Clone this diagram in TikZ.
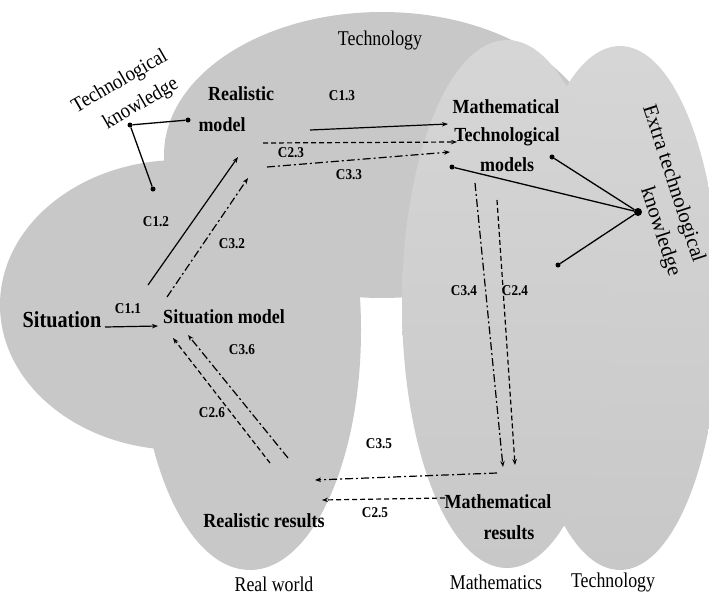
\documentclass[tikz,border=0pt]{standalone}
\usepackage{fontspec}
\setmainfont{Liberation Serif}
\usetikzlibrary{arrows.meta}
\newcommand{\sqz}[2][0.88]{\scalebox{#1}[1]{#2}}
\definecolor{regiongray}{HTML}{C8C8C8}
\definecolor{regionlight}{HTML}{D6D6D6}

\begin{document}
\begin{tikzpicture}[x=1pt,y=-1pt,
  lab/.style={font=\fontsize{20}{22}\selectfont\bfseries, inner sep=0pt},
  biglab/.style={font=\fontsize{23}{25}\selectfont\bfseries, inner sep=0pt},
  clab/.style={font=\fontsize{15}{16}\selectfont\bfseries, inner sep=0pt},
  reg/.style={font=\fontsize{21}{23}\selectfont, inner sep=0pt},
  conn/.style={line width=1.2pt, -{Stealth[length=6pt,width=4.5pt]}},
  dsh/.style={conn, dash pattern=on 5pt off 3pt},
  dshdot/.style={conn, dash pattern=on 8pt off 3pt on 2pt off 3pt},
  link/.style={line width=1.3pt},
  dot/.style={circle, fill=black, inner sep=0pt, minimum size=5pt},
  bigdot/.style={circle, fill=black, inner sep=0pt, minimum size=8pt},
]
\useasboundingbox (0,0) rectangle (709,597);
\fill[white] (0,0) rectangle (709,597);

% --- regions ---
\fill[regiongray] (250,330) ellipse [x radius=111, y radius=240];   % real world
\fill[regiongray] (180,305) ellipse [x radius=180, y radius=145];   % situation
\fill[regiongray] (382,155) ellipse [x radius=218, y radius=143];   % technology (top)
\shade[top color=regionlight, bottom color=regiongray] (620,308) ellipse [x radius=100, y radius=262]; % technology (right)
\shade[top color=regionlight, bottom color=regiongray] (507,304) ellipse [x radius=105, y radius=264]; % mathematics

% --- region titles ---
\node[reg] (ttech) at (380,40) {\sqz[0.85]{Technology}};
\node[reg] (treal) at (274,584) {\sqz[0.85]{Real world}};
\node[reg] (tmath) at (496,582) {\sqz[0.85]{Mathematics}};
\node[reg] (ttech2) at (613,582) {\sqz[0.85]{Technology}};

% --- stage labels ---
\node[biglab] (sit) at (62,320) {\sqz{Situation}};
\node[lab] (sitm) at (224,317) {\sqz[0.9]{Situation model}};
\node[lab] (real1) at (241,94) {\sqz[0.9]{Realistic}};
\node[lab] (real2) at (222,125) {\sqz[0.9]{model}};
\node[lab] (mtm1) at (506,107) {\sqz[0.9]{Mathematical}};
\node[lab] (mtm2) at (507,137) {\sqz[0.9]{Technological}};
\node[lab] (mtm3) at (507,165) {\sqz[0.9]{models}};
\node[lab] (mres1) at (498,502) {\sqz[0.9]{Mathematical}};
\node[lab] (mres2) at (509,533) {\sqz[0.9]{results}};
\node[lab] (rres) at (264,521) {\sqz[0.9]{Realistic results}};

% --- knowledge annotations ---
\node[reg, rotate=30] (tk1) at (120,82) {\sqz[0.9]{Technological}};
\node[reg, rotate=30] (tk2) at (141,104) {\sqz[0.9]{knowledge}};
\node[reg, rotate=-72] (ek1) at (673,184) {Extra technological};
\node[reg, rotate=-72] (ek2) at (660,232) {knowledge};

\node[dot] (tka) at (130,125) {};
\node[dot] (tkb) at (188,120) {};
\node[dot] (tkc) at (153,189) {};
\draw[link] (tkb) -- (tka) -- (tkc);

\node[bigdot] (eka) at (638,212) {};
\node[dot] (ekb) at (552,157) {};
\node[dot] (ekc) at (452,167) {};
\node[dot] (ekd) at (558,265) {};
\draw[link] (ekb) -- (eka) -- (ekc);
\draw[link] (eka) -- (ekd);

% --- connector end points ---
\coordinate (c11s) at (105,327); \coordinate (c11e) at (158,326);
\coordinate (c12s) at (148,285); \coordinate (c12e) at (238,157);
\coordinate (c32s) at (167,297); \coordinate (c32e) at (248,178);
\coordinate (c13s) at (310,130); \coordinate (c13e) at (448,124);
\coordinate (c23s) at (263,143); \coordinate (c23e) at (457,142);
\coordinate (c33s) at (267,167); \coordinate (c33e) at (450,152);
\coordinate (c34s) at (475,183); \coordinate (c34e) at (503,467);
\coordinate (c24s) at (497,200); \coordinate (c24e) at (515,465);
\coordinate (c35s) at (497,473); \coordinate (c35e) at (315,480);
\coordinate (c25s) at (445,498); \coordinate (c25e) at (322,500);
\coordinate (c36s) at (288,458); \coordinate (c36e) at (188,335);
\coordinate (c26s) at (270,463); \coordinate (c26e) at (173,338);

% --- connectors ---
\draw[conn] (c11s) -- (c11e);
\draw[conn] (c12s) -- (c12e);
\draw[dshdot] (c32s) -- (c32e);
\draw[conn] (c13s) -- (c13e);
\draw[dsh] (c23s) -- (c23e);
\draw[dshdot] (c33s) -- (c33e);
\draw[dshdot] (c34s) -- (c34e);
\draw[dsh] (c24s) -- (c24e);
\draw[dshdot] (c35s) -- (c35e);
\draw[dsh] (c25s) -- (c25e);
\draw[dshdot] (c36s) -- (c36e);
\draw[dsh] (c26s) -- (c26e);

% --- connector labels ---
\node[clab] (l11) at (128,309) {\sqz{C1.1}};
\node[clab] (l12) at (156,222) {\sqz{C1.2}};
\node[clab] (l32) at (232,244) {\sqz{C3.2}};
\node[clab] (l13) at (342,96) {\sqz{C1.3}};
\node[clab] (l23) at (291,153) {\sqz{C2.3}};
\node[clab] (l33) at (349,175) {\sqz{C3.3}};
\node[clab] (l34) at (464,291) {\sqz{C3.4}};
\node[clab] (l24) at (515,291) {\sqz{C2.4}};
\node[clab] (l35) at (379,444) {\sqz{C3.5}};
\node[clab] (l25) at (375,513) {\sqz{C2.5}};
\node[clab] (l36) at (242,350) {\sqz{C3.6}};
\node[clab] (l26) at (212,413) {\sqz{C2.6}};
\end{tikzpicture}
\end{document}
